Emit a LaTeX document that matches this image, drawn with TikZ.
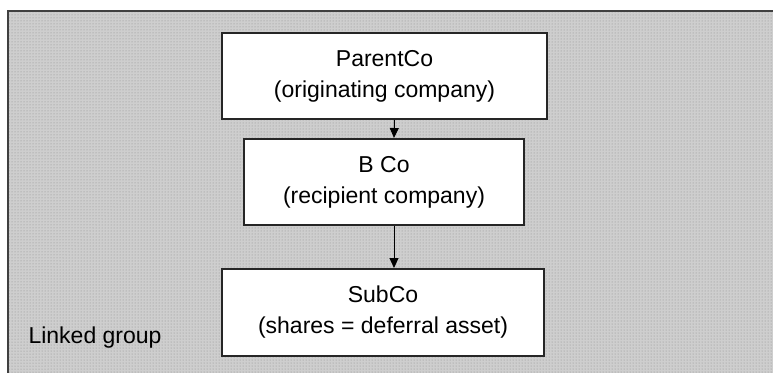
\documentclass[tikz,border=0pt]{standalone}
\usepackage{fontspec}
\setmainfont{Liberation Sans}
\usepackage{tikz}
\usetikzlibrary{positioning,arrows.meta,patterns}

\tikzset{
    cobox/.style={draw=black!85, line width=2pt, fill=white, align=center,
        minimum height=86pt, inner sep=0pt,
        font=\fontsize{23}{31}\selectfont},
    link/.style={-{Triangle[width=9pt,length=10pt]}, line width=1pt}
}

\begin{document}
\begin{tikzpicture}[x=1pt,y=-1pt]
        \useasboundingbox (0,0) rectangle (773,372);
        % linked group background
        \path[preaction={fill={rgb,255:red,206;green,206;blue,206}},
              pattern=dots, pattern color=black!45] (8,11) rectangle (800,400);
        \draw[line width=2pt, draw=black!75] (800,11) -- (8,11) -- (8,400);
        \node[cobox, minimum width=325pt] (pc) at (384.5,76) {ParentCo\\(originating company)};
        \node[cobox, minimum width=280pt] (bco) at (384,182) {B Co\\(recipient company)};
        \node[cobox, minimum width=322pt, minimum height=87pt] (sub) at (383,312.5) {SubCo\\(shares = deferral asset)};
        \node[anchor=base west, font=\fontsize{23}{28}\selectfont] (lg) at (25,343) {Linked group};
        \draw[link] ([xshift=10pt]pc.south) -- ([xshift=10pt]bco.north);
        \draw[link] ([xshift=10pt]bco.south) -- ([xshift=10pt]bco.south |- sub.north);
    \end{tikzpicture}
\end{document}
